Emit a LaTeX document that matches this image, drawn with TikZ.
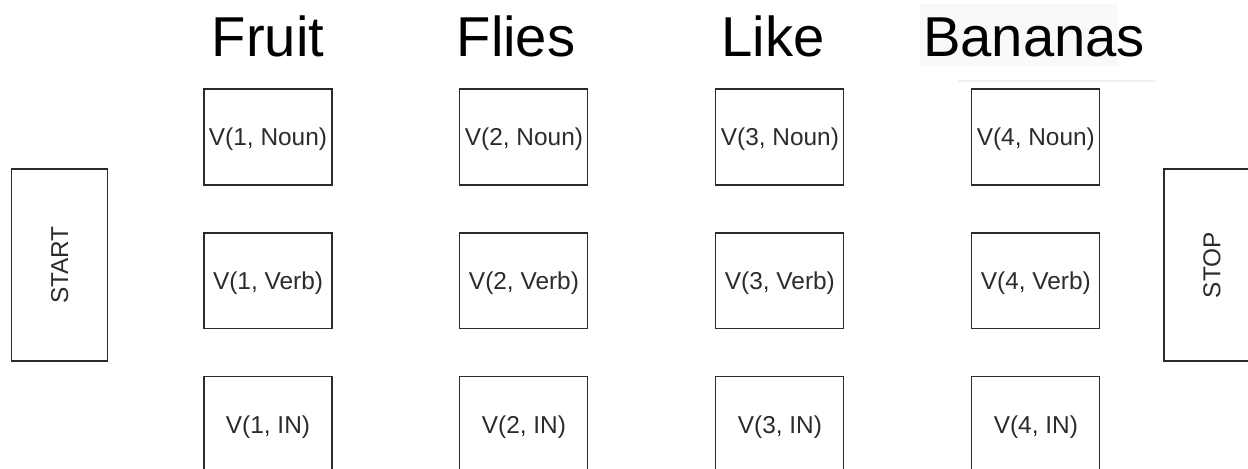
\documentclass[tikz,border=0pt]{standalone}
\usepackage{fontspec}
\setmainfont{Liberation Sans}
\usepackage{tikz}
\usetikzlibrary{positioning}
\newcommand{\lab}{\fontsize{13.9}{16}\selectfont}
\newcommand{\ttl}{\fontsize{32}{38}\selectfont}
\definecolor{edge}{HTML}{2B2B2B}
\definecolor{bgfill}{HTML}{F8F9FA}
\tikzstyle{cell}=[draw=edge, line width=0.6pt, minimum width=2.56cm, minimum height=1.92cm, inner sep=0pt, text=edge, font=\lab, text depth=0pt]
\tikzstyle{term}=[draw=edge, line width=0.6pt, minimum width=3.84cm, minimum height=1.92cm, inner sep=0pt, rotate=90, text=edge, font=\lab]
\tikzstyle{word}=[inner sep=0pt, anchor=base, font=\ttl]
\begin{document}
\begin{tikzpicture}[x=0.02cm,y=-0.02cm]
\useasboundingbox (0,0) rectangle (1248,469);
\clip (0,0) rectangle (1248,469);

% words
\fill[bgfill] (920,4) rectangle (1118,66);
\draw[black!6, line width=0.6pt] (958,81) -- (1156,81);
\node[word] at (268,57) (fruit) {Fruit};
\node[word] at (516,57) (flies) {Flies};
\node[word] at (773,57) (like) {Like};
\node[word] at (1034,57) (bananas) {Bananas};

% column 1
\node[cell] at (268,137) (noun1) {V(1, Noun)};
\node[cell, below of = noun1, node distance = 2.88cm] (verb1) {V(1, Verb)};
\node[cell, below of = verb1, node distance = 2.88cm] (in1) {V(1, IN)};

% column 2
\node[cell, right of = noun1, node distance = 5.12cm] (noun2) {V(2, Noun)};
\node[cell, below of = noun2, node distance = 2.88cm] (verb2) {V(2, Verb)};
\node[cell, below of = verb2, node distance = 2.88cm] (in2) {V(2, IN)};

% column 3
\node[cell, right of = noun2, node distance = 5.12cm] (noun3) {V(3, Noun)};
\node[cell, below of = noun3, node distance = 2.88cm] (verb3) {V(3, Verb)};
\node[cell, below of = verb3, node distance = 2.88cm] (in3) {V(3, IN)};

% column 4
\node[cell, right of = noun3, node distance = 5.12cm] (noun4) {V(4, Noun)};
\node[cell, below of = noun4, node distance = 2.88cm] (verb4) {V(4, Verb)};
\node[cell, below of = verb4, node distance = 2.88cm] (in4) {V(4, IN)};

% ends
\node[term] at (59.7,265) (start) {START};
\node[term] at (1212,265) (stop) {STOP};
\end{tikzpicture}
\end{document}
